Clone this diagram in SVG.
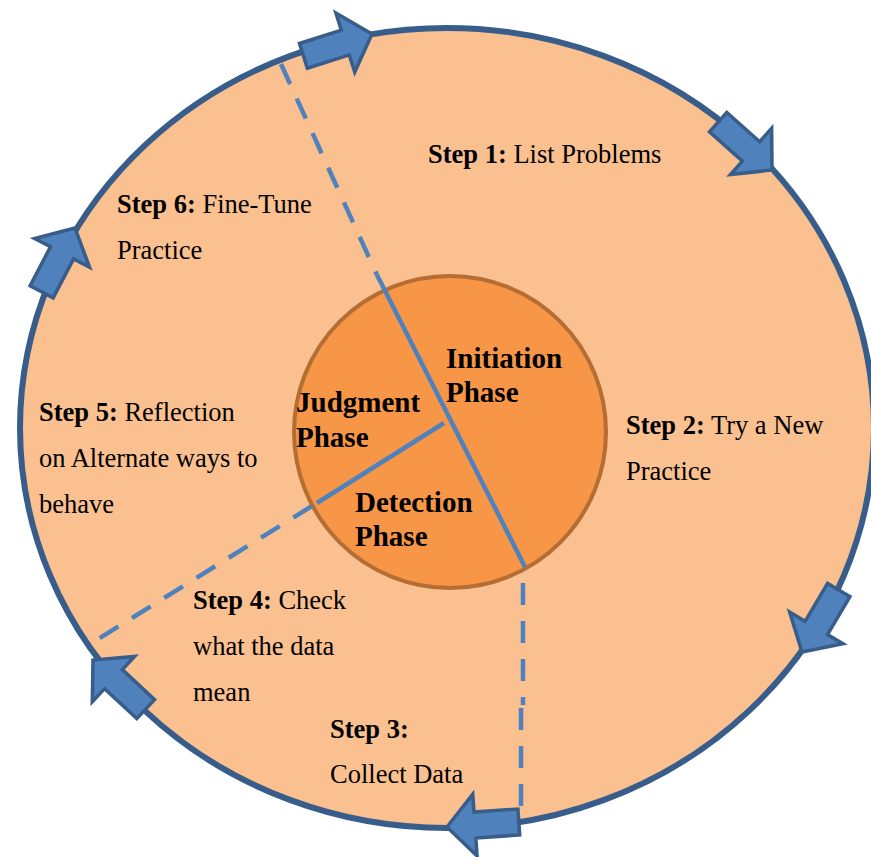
<svg xmlns="http://www.w3.org/2000/svg" width="871" height="857" viewBox="0 0 871 857">
  <defs>
    <style>
      .step { font-family: "Liberation Serif", "Times New Roman", serif; font-size: 26.5px; fill: #000; }
      .step .b { font-weight: bold; }
      .phase { font-family: "Liberation Serif", "Times New Roman", serif; font-size: 29px; font-weight: bold; fill: #000; }
      .div { stroke: #4F81BD; stroke-width: 4.5; fill: none; }
      .dash { stroke: #4F81BD; stroke-width: 4.5; fill: none; stroke-dasharray: 22 16; }
      .arrow { fill: #4F81BD; stroke: #385D8A; stroke-width: 3.5; stroke-linejoin: miter; }
    </style>
    <path id="blockArrow" d="M0,0 L-28,-31 L-28,-13 L-72,-13 L-72,13 L-28,13 L-28,31 Z"/>
  </defs>
  <rect width="871" height="857" fill="#FFFFFF"/>

  <g id="outer-cycle">
    <ellipse cx="447" cy="428" rx="427" ry="400" fill="#FAC090" stroke="#385D8A" stroke-width="6"/>
  </g>

  <g id="inner-circle">
    <circle cx="450" cy="432" r="156" fill="#F79646" stroke="#B46D33" stroke-width="4"/>
  </g>

  <g id="connectors">
    <line class="div" x1="377" y1="275" x2="525" y2="567"/>
    <line class="div" x1="444" y1="423" x2="317" y2="503"/>
    <path class="dash" d="M281,64 L377,275"/>
    <path class="dash" d="M312,506 L95,641"/>
    <path class="dash" d="M523,583 L523,705 M521,708 L521,818"/>
    <use href="#blockArrow" class="arrow" transform="translate(372,34) rotate(-17.7)"/>
    <use href="#blockArrow" class="arrow" transform="translate(772,170) rotate(41.6)"/>
    <use href="#blockArrow" class="arrow" transform="translate(802,652) rotate(120.7)"/>
    <use href="#blockArrow" class="arrow" transform="translate(447,827) rotate(176)"/>
    <use href="#blockArrow" class="arrow" transform="translate(93,660) rotate(223)"/>
    <use href="#blockArrow" class="arrow" transform="translate(75,228) rotate(-62.4)"/>
  </g>

  <g id="phase-initiation">
    <text class="phase" x="446" y="368">Initiation</text>
    <text class="phase" x="446" y="402">Phase</text>
  </g>
  <g id="phase-judgment">
    <text class="phase" x="296" y="412">Judgment</text>
    <text class="phase" x="296" y="447">Phase</text>
  </g>
  <g id="phase-detection">
    <text class="phase" x="355" y="512">Detection</text>
    <text class="phase" x="355" y="546">Phase</text>
  </g>

  <g id="step1">
    <text class="step" x="428" y="163"><tspan class="b">Step 1:</tspan> List Problems</text>
  </g>
  <g id="step2">
    <text class="step" x="626" y="434"><tspan class="b">Step 2:</tspan> Try a New</text>
    <text class="step" x="626" y="480">Practice</text>
  </g>
  <g id="step3">
    <text class="step" x="330" y="738"><tspan class="b">Step 3:</tspan></text>
    <text class="step" x="330" y="783">Collect Data</text>
  </g>
  <g id="step4">
    <text class="step" x="193" y="609"><tspan class="b">Step 4:</tspan> Check</text>
    <text class="step" x="193" y="655">what the data</text>
    <text class="step" x="193" y="701">mean</text>
  </g>
  <g id="step5">
    <text class="step" x="39" y="421"><tspan class="b">Step 5:</tspan> Reflection</text>
    <text class="step" x="39" y="467">on Alternate ways to</text>
    <text class="step" x="39" y="513">behave</text>
  </g>
  <g id="step6">
    <text class="step" x="117" y="213"><tspan class="b">Step 6:</tspan> Fine-Tune</text>
    <text class="step" x="117" y="259">Practice</text>
  </g>
</svg>
